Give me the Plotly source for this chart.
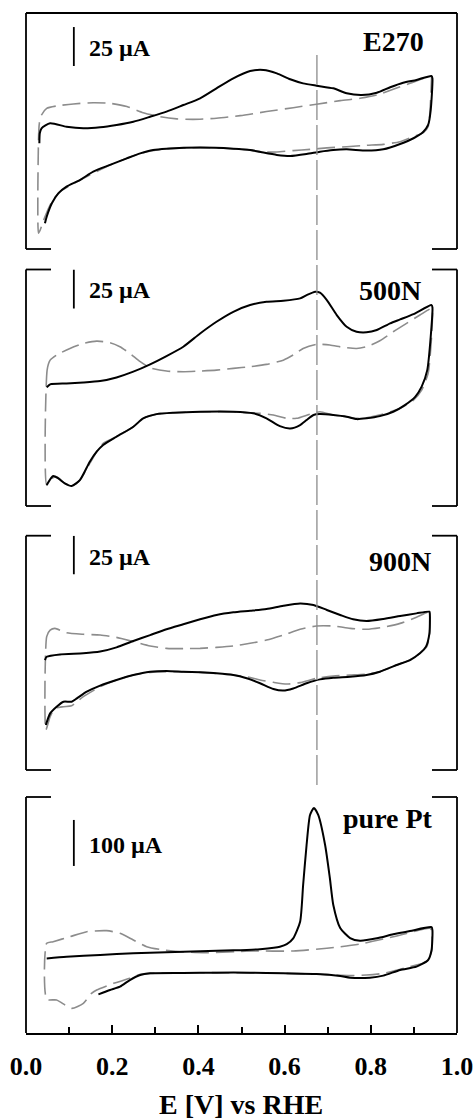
import plotly.graph_objects as go

# ---------------- data (E in V vs RHE, I in microampere) ----------------
panel_names = ["E270", "500N", "900N", "pure Pt"]
scale_labels = ["25 \u00b5A", "25 \u00b5A", "25 \u00b5A", "100 \u00b5A"]
scale_bar_lo = [41.0, 51.0, 50.5, 190.0]
scale_bar_hi = [66.0, 76.0, 75.2, 290.0]
x_ticks = [0.0, 0.2, 0.4, 0.6, 0.8, 1.0]
x_tick_labels = ["0.0", "0.2", "0.4", "0.6", "0.8", "1.0"]
marker_potential = 0.675

# Panel 1: E270
e270_solid_E = [0.031,0.032,0.036,0.056,0.094,0.133,0.172,0.210,0.249,0.288,0.326,0.365,0.404,0.442,0.481,0.520,0.551,0.582,0.613,0.643,0.674,0.713,0.744,0.779,0.814,0.845,0.875,0.906,0.941,
                0.943,0.939,0.933,0.922,0.899,0.868,0.829,0.790,0.744,0.713,0.682,0.651,0.613,0.582,0.551,0.520,0.481,0.404,0.326,0.295,0.265,0.234,0.195,0.156,0.125,0.094,0.075,0.060,0.048,0.044]
e270_solid_I = [-8.5,-2.1,1.1,4.3,2.1,1.1,1.7,3.2,5.3,8.5,11.8,16.0,20.3,26.7,33.1,37.8,38.5,36.3,32.5,29.9,28.4,26.7,23.5,22.4,23.9,27.4,30.3,32.1,34.6,
                33.1,12.8,3.2,-1.1,-5.3,-9.0,-12.4,-13.2,-12.4,-12.8,-13.9,-15.4,-16.7,-16.0,-14.5,-12.8,-12.0,-11.3,-12.0,-12.8,-15.0,-18.2,-22.4,-26.7,-32.1,-36.3,-40.6,-47.0,-55.6,-59.8]
e270_dash_E = [0.029,0.029,0.031,0.036,0.048,0.071,0.110,0.156,0.195,0.234,0.272,0.311,0.350,0.388,0.442,0.497,0.558,0.620,0.674,0.729,0.775,0.814,0.852,0.891,0.941,
               0.941,0.937,0.933,0.922,0.899,0.868,0.829,0.790,0.744,0.698,0.659,0.620,0.582,0.551,0.520,0.481,0.404,0.326,0.265,0.195,0.125,0.079,0.060,0.044,0.033,0.029]
e270_dash_I = [-66.2,-6.4,4.3,9.6,13.9,15.4,16.7,17.5,17.1,15.0,11.1,8.5,7.1,6.8,7.5,9.2,11.8,14.3,16.5,18.8,20.3,22.4,26.1,29.9,34.6,
               33.8,10.7,2.1,-1.7,-4.3,-7.5,-9.2,-9.8,-10.7,-11.5,-12.4,-13.2,-14.1,-14.1,-12.8,-12.0,-11.3,-12.0,-15.0,-22.4,-32.1,-39.5,-46.0,-55.6,-64.1,-66.2]

# Panel 2: 500N
n500_solid_E = [0.048,0.056,0.094,0.133,0.172,0.210,0.249,0.288,0.326,0.365,0.404,0.442,0.481,0.520,0.558,0.597,0.636,0.651,0.671,0.682,0.698,0.721,0.744,0.767,0.790,0.814,0.845,0.868,0.899,0.941,
                0.943,0.939,0.931,0.918,0.903,0.879,0.852,0.821,0.790,0.767,0.744,0.713,0.682,0.667,0.651,0.636,0.613,0.589,0.558,0.527,0.481,0.404,0.342,0.303,0.272,0.249,0.210,0.179,0.164,0.148,0.125,0.106,0.090,0.075,0.063,0.048]
n500_solid_I = [0.4,2.4,3.0,3.6,4.5,6.8,10.5,15.2,20.5,26.5,35.0,42.5,48.9,53.2,55.3,56.0,57.5,59.6,61.8,61.1,56.4,46.8,39.3,36.1,35.7,37.2,41.5,44.0,47.4,53.2,
                51.7,32.9,11.5,0.9,-5.6,-10.9,-15.2,-18.0,-19.4,-19.9,-18.4,-17.3,-16.7,-17.3,-20.5,-23.7,-25.9,-24.4,-19.4,-16.2,-15.2,-15.2,-15.8,-16.7,-19.4,-24.8,-31.2,-36.5,-40.8,-47.2,-59.0,-62.8,-61.1,-57.9,-56.4,-62.2]
n500_dash_E = [0.048,0.049,0.056,0.071,0.102,0.133,0.164,0.195,0.218,0.241,0.265,0.288,0.326,0.365,0.404,0.442,0.481,0.520,0.558,0.597,0.620,0.643,0.674,0.705,0.736,0.767,0.790,0.821,0.852,0.883,0.914,0.941,
               0.943,0.941,0.933,0.918,0.899,0.868,0.829,0.790,0.767,0.744,0.713,0.682,0.659,0.628,0.605,0.574,0.543,0.512,0.481,0.404,0.342,0.303,0.272,0.249,0.210,0.179,0.164,0.148,0.125,0.106,0.090,0.071,0.060,0.048]
n500_dash_I = [-62.2,11.5,17.9,21.2,25.4,28.6,30.1,29.1,26.5,22.2,16.9,13.0,10.9,10.5,10.9,11.5,12.6,13.7,15.2,17.9,21.2,25.4,28.0,27.6,26.1,25.4,26.5,30.3,36.1,41.5,46.8,51.1,
               50.0,32.9,9.4,-1.3,-7.7,-13.0,-16.7,-19.0,-19.4,-18.4,-17.3,-15.2,-16.7,-19.4,-19.4,-17.3,-16.2,-15.8,-15.2,-15.2,-15.8,-16.7,-19.4,-24.8,-31.2,-35.5,-40.8,-48.3,-59.0,-62.8,-61.1,-56.8,-57.9,-62.2]

# Panel 3: 900N
n900_solid_E = [0.044,0.048,0.079,0.133,0.172,0.210,0.249,0.288,0.326,0.365,0.404,0.442,0.481,0.520,0.558,0.597,0.636,0.667,0.698,0.729,0.759,0.790,0.829,0.868,0.906,0.936,
                0.937,0.936,0.928,0.914,0.891,0.860,0.821,0.790,0.752,0.713,0.682,0.651,0.620,0.597,0.574,0.543,0.512,0.481,0.442,0.404,0.365,0.326,0.288,0.249,0.210,0.172,0.141,0.118,0.106,0.087,0.071,0.056,0.046]
n900_solid_I = [-4.5,-2.4,-0.9,-0.2,0.9,3.6,7.7,11.5,15.2,18.4,21.6,24.4,26.1,27.1,28.2,30.3,31.8,30.8,27.6,24.4,21.6,20.5,21.8,23.7,25.4,26.5,
                25.0,12.6,4.1,-0.2,-4.5,-7.7,-12.0,-14.1,-15.2,-15.8,-16.9,-19.4,-22.7,-24.1,-23.1,-19.4,-16.2,-14.1,-13.0,-12.4,-12.0,-11.5,-12.0,-14.1,-17.3,-20.9,-24.8,-29.1,-31.2,-31.2,-34.4,-38.7,-46.2]
n900_dash_E = [0.046,0.048,0.056,0.067,0.094,0.133,0.172,0.210,0.249,0.288,0.326,0.365,0.404,0.442,0.481,0.520,0.558,0.597,0.636,0.674,0.713,0.752,0.790,0.829,0.868,0.906,0.936,
               0.937,0.936,0.930,0.914,0.891,0.860,0.821,0.790,0.752,0.713,0.674,0.636,0.605,0.574,0.543,0.512,0.481,0.404,0.326,0.288,0.249,0.210,0.172,0.133,0.106,0.087,0.067,0.056,0.046]
n900_dash_I = [-49.4,10.5,14.7,15.8,13.0,12.0,11.5,10.0,7.3,4.5,3.0,2.8,3.0,3.6,4.5,6.2,8.3,11.5,15.2,17.3,17.3,15.8,15.2,16.5,19.0,22.9,26.5,
               24.4,10.5,4.1,-0.2,-4.5,-7.7,-12.0,-13.5,-14.1,-14.7,-16.2,-19.0,-19.9,-18.8,-17.3,-15.2,-14.1,-12.4,-12.0,-12.4,-14.1,-17.3,-21.6,-28.0,-33.8,-34.4,-35.5,-40.8,-49.4]

# Panel 4: pure Pt
pt_solid_E = [0.048,0.094,0.172,0.249,0.326,0.404,0.481,0.543,0.575,0.589,0.605,0.620,0.636,0.643,0.651,0.659,0.668,0.678,0.694,0.705,0.713,0.729,0.752,0.775,0.814,0.852,0.891,0.941,
              0.943,0.941,0.933,0.906,0.868,0.829,0.798,0.752,0.729,0.674,0.597,0.520,0.442,0.365,0.288,0.265,0.241,0.218,0.195,0.168]
pt_solid_I = [-11,-7.5,-3.5,0,2.5,4.5,6.5,9,12,14.4,20,32.6,68.8,148.6,235.5,300.8,316,300.8,235.5,163.8,105.1,55.1,33.3,27.5,32.6,41.3,48.5,57,
              50,7.2,-14.5,-29,-36.2,-48.5,-52.9,-52.9,-49.3,-44.9,-43.5,-42.0,-42.0,-42.8,-43.5,-47.1,-58.0,-72.5,-79.7,-89.1]
pt_dash_E = [0.048,0.048,0.063,0.102,0.141,0.187,0.218,0.249,0.280,0.319,0.357,0.411,0.527,0.620,0.698,0.775,0.852,0.937,
             0.941,0.941,0.929,0.891,0.868,0.829,0.790,0.752,0.713,0.674,0.597,0.442,0.288,0.265,0.241,0.203,0.164,0.152,0.133,0.106,0.071,0.048]
pt_dash_I = [-100,21.7,25.4,36.2,47.1,49.3,43.5,29.0,14.5,7.2,3.6,1.4,5.0,5.1,10.9,20.3,36.2,54.3,
             50,3.6,-18.1,-29,-34.8,-43.5,-47.1,-48.5,-47.1,-44.9,-43.5,-42.0,-43.5,-45.5,-54.3,-65.2,-79.7,-87,-108.7,-119.6,-101.4,-100]

solid_E = [e270_solid_E, n500_solid_E, n900_solid_E, pt_solid_E]
solid_I = [e270_solid_I, n500_solid_I, n900_solid_I, pt_solid_I]
dash_E = [e270_dash_E, n500_dash_E, n900_dash_E, pt_dash_E]
dash_I = [e270_dash_I, n500_dash_I, n900_dash_I, pt_dash_I]

# ---------------- layout settings ----------------
W, H = 475, 1120
x_dom = [26 / W, 457 / W]
panel_px = [(13, 249), (269.5, 506), (535.7, 770), (797, 1033)]
y_ranges = [[-76.3, 75.0], [-75.6, 76.0], [-75.0, 75.2], [-173.2, 339.9]]
name_x = [0.928, 0.921, 0.944, 0.949]
name_y = [56.6, 62.8, 58.5, 293.5]
scale_x = 0.111
scale_text_x = 0.142
scale_text_y = [52.6, 62.8, 61.7, 235.5]

BLACK = "#000000"
GRAY = "#8c8c8c"
FONT = "Liberation Serif, Times New Roman, serif"


def ax_id(k):
    return ("x", "y") if k == 1 else (f"x{k}", f"y{k}")


fig = go.Figure()
layout = dict(width=W, height=H, margin=dict(l=0, r=0, t=0, b=0, autoexpand=False),
              plot_bgcolor="white", paper_bgcolor="white", showlegend=False)
shapes = []
annotations = []

for i in range(4):
    k = i + 1
    xa, ya = ax_id(k)
    fig.add_trace(go.Scatter(x=dash_E[i], y=dash_I[i], mode="lines", xaxis=xa, yaxis=ya,
                             line=dict(color=GRAY, width=1.6, dash="18px,7px", shape="spline", smoothing=0.6),
                             hoverinfo="skip"))
    fig.add_trace(go.Scatter(x=solid_E[i], y=solid_I[i], mode="lines", xaxis=xa, yaxis=ya,
                             line=dict(color=BLACK, width=2.0, shape="spline", smoothing=0.6),
                             hoverinfo="skip"))
    top, bot = panel_px[i]
    ydom = [1 - bot / H, 1 - top / H]
    is_bottom = (k == 4)
    xaxis = dict(domain=x_dom, range=[0, 1.0], anchor=ya, showgrid=False, zeroline=False,
                 fixedrange=True, automargin=False)
    if is_bottom:
        xaxis.update(showline=True, linecolor=BLACK, linewidth=2.2, ticks="inside", ticklen=8,
                     tickwidth=1.5, tickcolor=BLACK, tickmode="array", tickvals=x_ticks,
                     ticktext=x_tick_labels,
                     tickfont=dict(family=FONT, size=26, color=BLACK, weight="bold"),
                     ticklabelstandoff=9,
                     minor=dict(dtick=0.1, tick0=0, ticks="inside", ticklen=6, tickwidth=1.5,
                                tickcolor=BLACK, showgrid=False))
    else:
        xaxis.update(visible=False)
    xkey = "xaxis" if k == 1 else f"xaxis{k}"
    ykey = "yaxis" if k == 1 else f"yaxis{k}"
    layout[xkey] = xaxis
    layout[ykey] = dict(domain=ydom, range=y_ranges[i], anchor=xa, visible=False,
                        showgrid=False, zeroline=False, fixedrange=True, automargin=False)

    # frame with brackets
    xd, yd = f"{xa} domain", f"{ya} domain"
    fl = dict(color=BLACK, width=1.8)
    br = 25 / 431
    shapes.append(dict(type="line", xref=xd, yref=yd, x0=0, x1=0, y0=0, y1=1, line=fl))
    shapes.append(dict(type="line", xref=xd, yref=yd, x0=1, x1=1, y0=0, y1=1, line=fl))
    if k == 1:
        shapes.append(dict(type="line", xref=xd, yref=yd, x0=0, x1=1, y0=1, y1=1, line=fl))
    else:
        shapes.append(dict(type="line", xref=xd, yref=yd, x0=0, x1=br, y0=1, y1=1, line=fl))
        shapes.append(dict(type="line", xref=xd, yref=yd, x0=1 - br, x1=1, y0=1, y1=1, line=fl))
    if not is_bottom:
        shapes.append(dict(type="line", xref=xd, yref=yd, x0=0, x1=br, y0=0, y1=0, line=fl))
        shapes.append(dict(type="line", xref=xd, yref=yd, x0=1 - br, x1=1, y0=0, y1=0, line=fl))

    # scale bar
    shapes.append(dict(type="line", xref=xa, yref=ya, x0=scale_x, x1=scale_x,
                       y0=scale_bar_lo[i], y1=scale_bar_hi[i], line=dict(color=BLACK, width=1.8)))
    annotations.append(dict(xref=xa, yref=ya, x=scale_text_x, y=scale_text_y[i], text=f"<b>{scale_labels[i]}</b>",
                            showarrow=False, xanchor="left", yanchor="middle",
                            font=dict(family=FONT, size=24, color=BLACK)))
    annotations.append(dict(xref=xa, yref=ya, x=name_x[i], y=name_y[i], text=f"<b>{panel_names[i]}</b>",
                            showarrow=False, xanchor="right", yanchor="middle",
                            font=dict(family=FONT, size=28, color=BLACK)))

# vertical dashed marker line across the upper three panels
shapes.append(dict(type="line", xref="x4", yref="paper", x0=marker_potential, x1=marker_potential,
                   y0=1 - 785 / H, y1=1 - 55 / H, line=dict(color=GRAY, width=1.3, dash="30px,5px")))

annotations.append(dict(xref="paper", yref="paper", x=240.8 / W, y=1 - 1087 / H,
                        text="<b>E [V] vs RHE</b>", showarrow=False, xanchor="center", yanchor="top",
                        font=dict(family=FONT, size=28, color=BLACK)))

layout["shapes"] = shapes
layout["annotations"] = annotations
fig.update_layout(**layout)
fig.write_html("out.html")
